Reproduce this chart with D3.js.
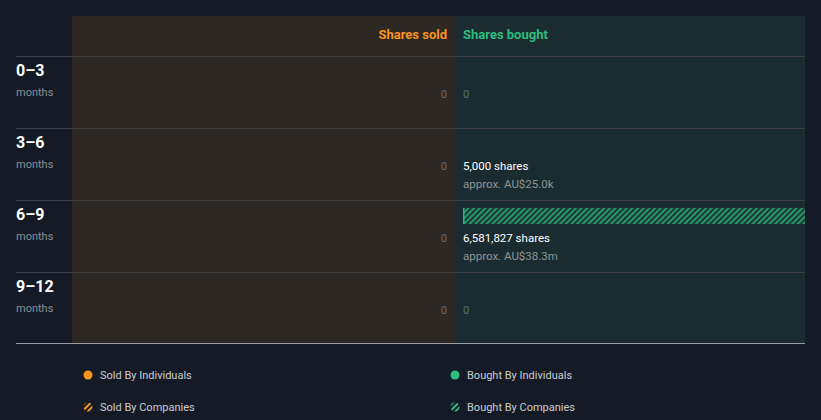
<!DOCTYPE html>
<html><head><meta charset="utf-8">
<script src="https://cdn.jsdelivr.net/npm/d3@7"></script>
<style>html,body{margin:0;padding:0;background:#151b26;}svg{display:block;font-family:Roboto,"Noto Sans",sans-serif;}</style>
</head><body><svg id="c" width="821" height="420"></svg>
<script>
const periods = ["0–3", "3–6", "6–9", "9–12"];
const periodUnit = ["months", "months", "months", "months"];
const soldShares = [0, 0, 0, 0];
const boughtShares = [0, 5000, 6581827, 0];
const boughtValue = ["", "approx. AU$25.0k", "approx. AU$38.3m", ""];
const boughtByCompanies = [0, 0, 6581827, 0];
const legendItems = ["Sold By Individuals", "Bought By Individuals", "Sold By Companies", "Bought By Companies"];

(function () {
const svg = d3.select("#c");
const left = 16, right = 805, panelL = 72, mid = 455, topY = 16, headerB = 56, bottomY = 343;
const orange = "#f7931e", green = "#2ebd7f";

const defs = svg.append("defs");
function hatch(id, color, bg) {
  const p = defs.append("pattern").attr("id", id).attr("patternUnits", "userSpaceOnUse")
    .attr("width", 4).attr("height", 4).attr("patternTransform", "rotate(45)");
  p.append("rect").attr("width", 4).attr("height", 4).attr("fill", bg);
  p.append("rect").attr("width", 2).attr("height", 4).attr("fill", color);
}
hatch("hg", "#2a946a", "#1a3a35");
hatch("ho", orange, "#151b26");
hatch("hg2", green, "#151b26");

svg.append("rect").attr("x", panelL).attr("y", topY).attr("width", mid - panelL).attr("height", bottomY - topY).attr("fill", "#2d2823");
svg.append("rect").attr("x", mid).attr("y", topY).attr("width", right - mid).attr("height", bottomY - topY).attr("fill", "#1a2c30");

const y = d3.scaleBand().domain(periods).range([headerB, headerB + 72 * periods.length]);
const xb = d3.scaleLinear().domain([0, d3.max(boughtShares)]).range([0, right - 463]);

svg.append("text").attr("x", 447).attr("y", 39).attr("text-anchor", "end").attr("fill", orange)
  .attr("font-size", 13).attr("font-weight", 700).text("Shares sold");
svg.append("text").attr("x", 463).attr("y", 39).attr("fill", green)
  .attr("font-size", 13).attr("font-weight", 700).text("Shares bought");

const fmt = d3.format(",");
const rows = svg.selectAll("g.row").data(periods).join("g").attr("class", "row")
  .attr("transform", d => `translate(0,${y(d)})`);
rows.append("line").attr("x1", left).attr("x2", right).attr("y1", 0.5).attr("y2", 0.5).attr("stroke", "#3d3f42").attr("stroke-width", 1);
rows.append("text").attr("x", left).attr("y", 20).attr("fill", "#ffffff").attr("font-size", 16).attr("font-weight", 700).text(d => d);
rows.append("text").attr("x", left).attr("y", 40).attr("fill", "#8b8f95").attr("font-size", 11).text((d, i) => periodUnit[i]);
rows.append("text").attr("x", 447).attr("y", 42).attr("text-anchor", "end").attr("fill", "#6b6e70").attr("font-size", 11)
  .text((d, i) => soldShares[i] ? fmt(soldShares[i]) + " shares" : "0");
rows.each(function (d, i) {
  const g = d3.select(this);
  const v = boughtShares[i];
  if (v === 0) {
    g.append("text").attr("x", 463).attr("y", 42).attr("fill", "#5f7272").attr("font-size", 11).text("0");
    return;
  }
  const comp = boughtByCompanies[i], ind = v - comp;
  if (xb(ind) >= 1) g.append("rect").attr("x", 463).attr("y", 8).attr("width", xb(ind)).attr("height", 16).attr("fill", green);
  if (xb(comp) >= 1) {
    const x0 = 463 + (xb(ind) >= 1 ? xb(ind) : 0);
    g.append("rect").attr("x", x0).attr("y", 8).attr("width", xb(comp)).attr("height", 16).attr("fill", "url(#hg)");
    g.append("rect").attr("x", x0).attr("y", 8).attr("width", 1.5).attr("height", 16).attr("fill", green);
  }
  g.append("text").attr("x", 463).attr("y", 42).attr("fill", "#ffffff").attr("font-size", 11.5).attr("font-weight", 400).text(fmt(v) + " shares");
  g.append("text").attr("x", 463).attr("y", 60).attr("fill", "#8a9494").attr("font-size", 11.5).text(boughtValue[i]);
});

svg.append("line").attr("x1", left).attr("x2", right).attr("y1", bottomY + 0.5).attr("y2", bottomY + 0.5).attr("stroke", "#9a9ea3").attr("stroke-width", 1);

const legPos = [[88, 375], [455, 375], [88, 407], [455, 407]];
const legFill = [orange, green, "url(#ho)", "url(#hg2)"];
legendItems.forEach((t, i) => {
  const [lx, ly] = legPos[i];
  svg.append("circle").attr("cx", lx).attr("cy", ly).attr("r", 4.5).attr("fill", legFill[i]);
  svg.append("text").attr("x", lx + 12).attr("y", ly + 4).attr("fill", "#c9cccf").attr("font-size", 11).text(t);
});
})();
</script></body></html>
